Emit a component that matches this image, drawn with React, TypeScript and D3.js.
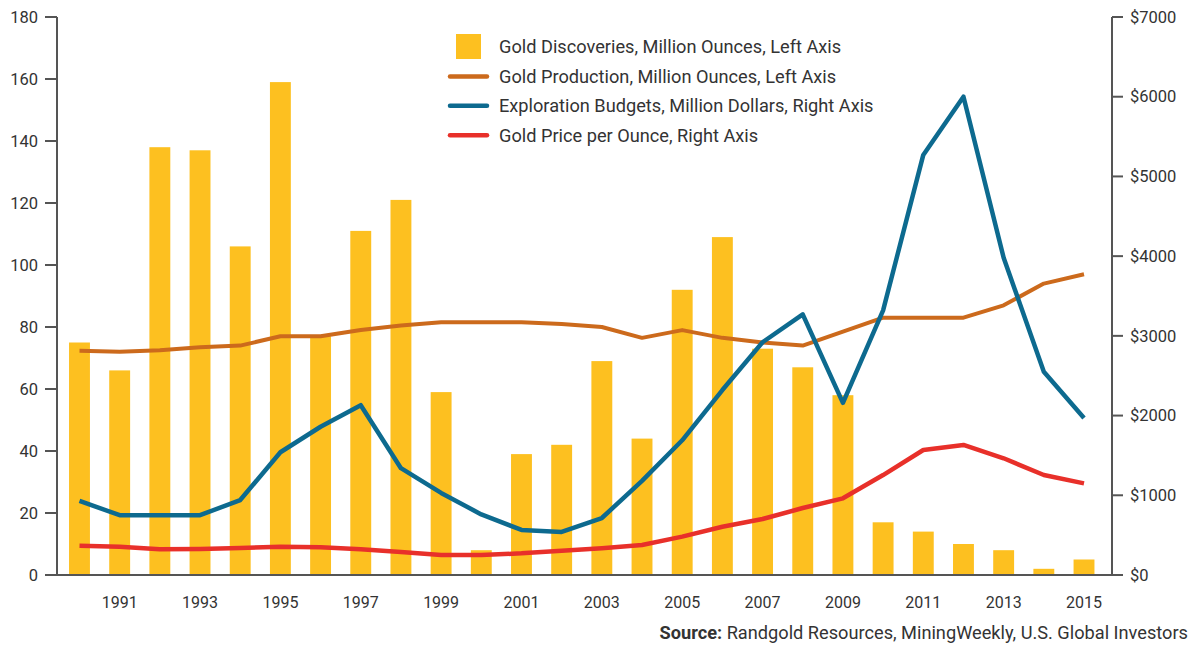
import React from "react";
import * as d3 from "d3";

const years = [1990,1991,1992,1993,1994,1995,1996,1997,1998,1999,2000,2001,2002,2003,2004,2005,2006,2007,2008,2009,2010,2011,2012,2013,2014,2015];
const discoveries = [75,66,138,137,106,159,77,111,121,59,8,39,42,69,44,92,109,73,67,58,17,14,10,8,2,5];
const production = [72.3,72,72.5,73.5,74,77,77,79,80.5,81.5,81.5,81.5,81,80,76.5,79,76.5,75,74,78.5,83,83,83,87,94,97];
const exploration = [930,750,750,750,940,1540,1860,2130,1340,1030,760,565,540,715,1180,1690,2320,2920,3270,2160,3320,5270,6000,3980,2550,1970];
const goldPrice = [368,355,322,326,339,355,347,322,289,251,251,272,305,335,376,481,606,702,840,962,1254,1568,1631,1464,1254,1150];
const leftTicks = [0,20,40,60,80,100,120,140,160,180];
const rightTicks = [0,1000,2000,3000,4000,5000,6000,7000];
const yearLabels = [1991,1993,1995,1997,1999,2001,2003,2005,2007,2009,2011,2013,2015];
const legendItems = [
  { label: "Gold Discoveries, Million Ounces, Left Axis", type: "bar", color: "#FDC020" },
  { label: "Gold Production, Million Ounces, Left Axis", type: "line", color: "#CC6A1C" },
  { label: "Exploration Budgets, Million Dollars, Right Axis", type: "line", color: "#0D6A8F" },
  { label: "Gold Price per Ounce, Right Axis", type: "line", color: "#E8302A" },
];

const FONT = "Roboto, 'Open Sans', sans-serif";
const TXT = "#333";
const AX = "#555";

export default function App() {
  const W = 1193, H = 645;
  const axL = 57, axR = 1112, yTop = 17, yBot = 575;
  const x = d3.scaleBand<number>().domain(years).range([59.4, 1104.1]).paddingInner(0.48).paddingOuter(0.24);
  const yL = d3.scaleLinear().domain([0, 180]).range([yBot, yTop]);
  const yR = d3.scaleLinear().domain([0, 7000]).range([yBot, yTop]);
  const cx = (yr: number) => (x(yr) as number) + x.bandwidth() / 2;

  const lineL = d3.line<number>().x((_, i) => cx(years[i])).y((d) => yL(d));
  const lineR = d3.line<number>().x((_, i) => cx(years[i])).y((d) => yR(d));

  return (
    <svg width={W} height={H} style={{ position: "absolute", left: 0, top: 0, background: "#fff" }} fontFamily={FONT}>
      <rect x={0} y={0} width={W} height={H} fill="#fff" />
      {discoveries.map((v, i) => (
        <rect key={years[i]} x={x(years[i])} y={yL(v)} width={x.bandwidth()} height={yBot - yL(v)} fill="#FDC020" />
      ))}
      <path d={lineL(production) || ""} fill="none" stroke="#CC6A1C" strokeWidth={4} strokeLinejoin="round" />
      <path d={lineR(exploration) || ""} fill="none" stroke="#0D6A8F" strokeWidth={4.5} strokeLinejoin="round" />
      <path d={lineR(goldPrice) || ""} fill="none" stroke="#E8302A" strokeWidth={4.5} strokeLinejoin="round" />

      <line x1={axL} x2={axL} y1={yTop} y2={yBot} stroke={AX} strokeWidth={2} />
      {leftTicks.map((t) => (
        <g key={"l" + t}>
          <line x1={axL - 12} x2={axL} y1={yL(t)} y2={yL(t)} stroke={AX} strokeWidth={2} />
          <text x={38} y={yL(t)} dy="0.35em" textAnchor="end" fontSize={16.5} fill={TXT}>{t}</text>
        </g>
      ))}
      <line x1={axR} x2={axR} y1={yTop} y2={yBot} stroke={AX} strokeWidth={2} />
      {rightTicks.map((t) => (
        <g key={"r" + t}>
          <line x1={axR} x2={axR + 11} y1={yR(t)} y2={yR(t)} stroke={AX} strokeWidth={2} />
          <text x={1130} y={yR(t)} dy="0.35em" textAnchor="start" fontSize={16.5} fill={TXT}>{"$" + t}</text>
        </g>
      ))}
      <line x1={axL - 12} x2={axR + 11} y1={yBot} y2={yBot} stroke={AX} strokeWidth={2} />
      {yearLabels.map((yr) => (
        <text key={"x" + yr} x={cx(yr)} y={608} textAnchor="middle" fontSize={16} fill={TXT}>{yr}</text>
      ))}

      {legendItems.map((it, i) => {
        const cy = 47 + i * 29.4;
        return (
          <g key={it.label}>
            {it.type === "bar" ? (
              <rect x={456} y={cy - 13} width={25} height={25} fill={it.color} />
            ) : (
              <line x1={450} x2={487} y1={cy} y2={cy} stroke={it.color} strokeWidth={4.5} strokeLinecap="round" />
            )}
            <text x={499} y={cy} dy="0.35em" fontSize={18.2} fill={TXT}>{it.label}</text>
          </g>
        );
      })}

      <text x={1188} y={639} textAnchor="end" fontSize={18.2} fill={TXT}>
        <tspan fontWeight="bold">Source:</tspan>
        <tspan> Randgold Resources, MiningWeekly, U.S. Global Investors</tspan>
      </text>
    </svg>
  );
}
